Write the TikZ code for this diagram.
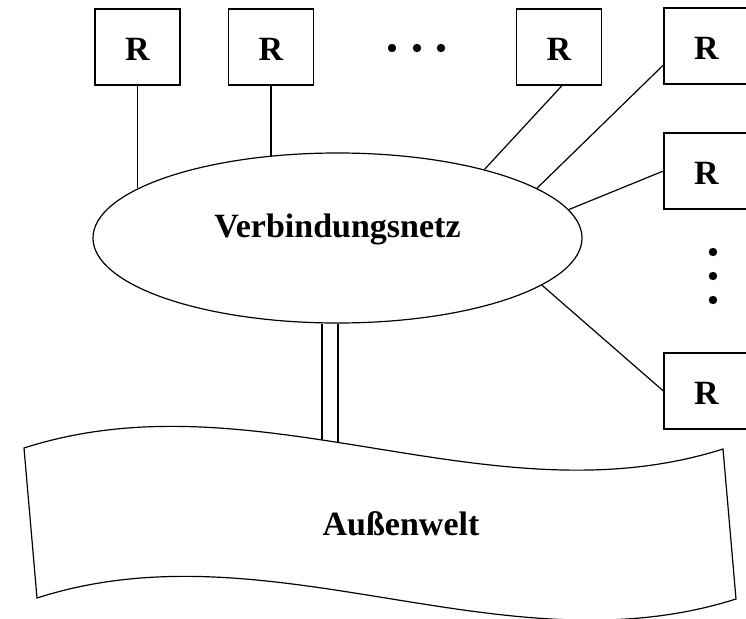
\documentclass[tikz,border=0pt]{standalone}
\usepackage{fontspec}
\setmainfont{Liberation Serif}
\usetikzlibrary{shapes.geometric}
\begin{document}
\begin{tikzpicture}[
  x=1pt, y=-1pt,
  every path/.style={line width=1.2pt},
  rbox/.style={draw, line width=1.2pt, rectangle, minimum width=85pt, minimum height=76pt,
    inner sep=0pt, text height=27pt, font=\fontsize{34}{40}\selectfont\bfseries},
  netz/.style={draw, line width=1.2pt, ellipse, minimum width=489pt, minimum height=170pt, inner sep=0pt},
  lbl/.style={inner sep=0pt, anchor=base, font=\fontsize{34}{40}\selectfont\bfseries},
  dot/.style={fill=black, draw=none}
]
\useasboundingbox (0,0) rectangle (746,618);

% routers along the top
\node[rbox] (b1) at (137.5,47) {R};
\node[rbox] (b2) at (271,47) {R};
\node[rbox] (b3) at (559,47) {R};
\node[rbox] (b4) at (706.5,46) {R};
% routers along the right side
\node[rbox] (b5) at (706.5,171) {R};
\node[rbox] (b6) at (706.5,391) {R};

% ellipses of dots for omitted routers
\fill[dot] (392,48) circle (4.2) (417,48) circle (4.2) (441,48) circle (4.2);
\fill[dot] (713,252) circle (4.2) (713,276) circle (4.2) (713,300) circle (4.2);

% interconnection network
\node[netz] (net) at (337.5,238) {};
\node[lbl] (nettext) at (337.5,237) {Verbindungsnetz};

% outside world banner
\draw (24,448) .. controls (257,373) and (490,523) .. (723,449)
  -- (736,599) .. controls (503,673) and (270,523) .. (37,598) -- cycle;
\coordinate (w1) at (322,440.3);
\coordinate (w2) at (338,442.8);
\node[lbl] (welt) at (401,535) {Außenwelt};

% links
\draw (b1.south) -- (b1.south |- net.166);
\draw (b2.south) -- (b2.south |- net.129);
\draw ([xshift=3pt]b3.south) -- (net.25.4);
\draw ([yshift=-19pt]b4.west) -- (net.14.8);
\draw (b5.west) -- (net.7.8);
\draw (b6.west) -- (net.-13.2);
\draw (w1 |- net.south) -- (w1);
\draw (w2 |- net.south) -- (w2);
\end{tikzpicture}
\end{document}
